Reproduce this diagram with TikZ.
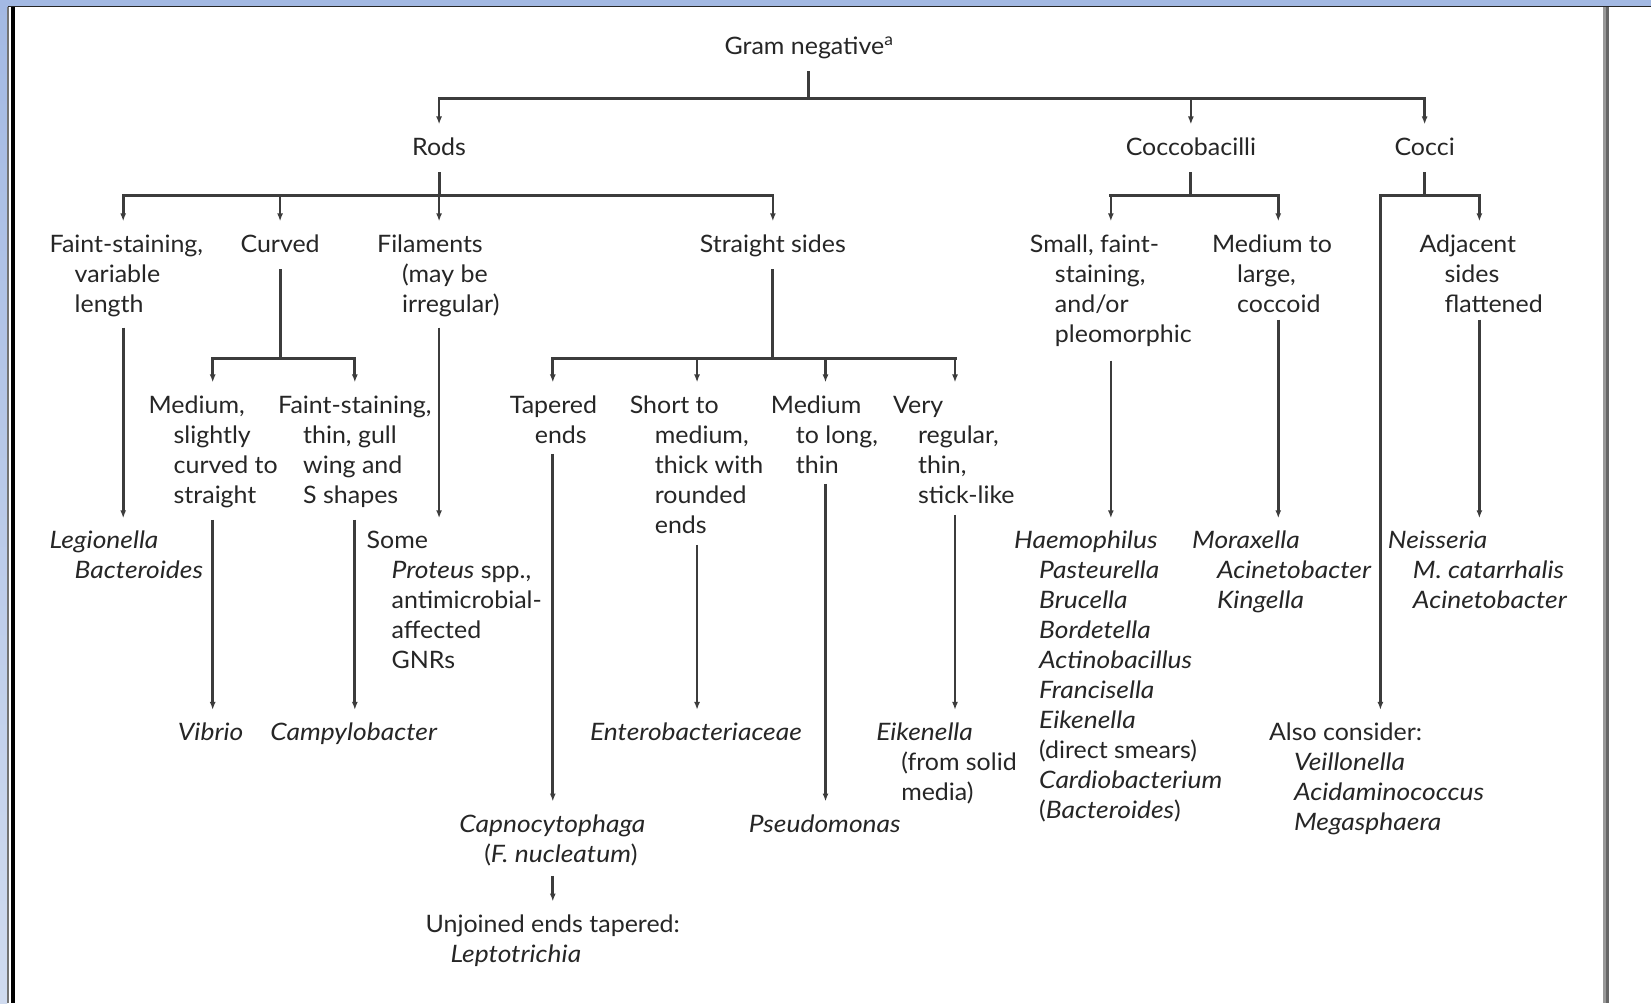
\documentclass[tikz,border=0pt]{standalone}
\usepackage{fontspec}
\setmainfont{Lato}[FakeStretch=1.04, ItalicFeatures={FakeStretch=1.10}]
\usetikzlibrary{arrows.meta}
\definecolor{txt}{HTML}{262626}
\definecolor{lnc}{HTML}{3C3C3C}
\definecolor{bandtop}{HTML}{A3B9E3}
\definecolor{bandbot}{HTML}{D0DBEF}
\newcommand{\hind}{\hspace*{25pt}}
\newcommand{\fsz}{\fontsize{24}{30}\selectfont}
\begin{document}
\begin{tikzpicture}[x=1.0529pt, y=-1.0529pt,
  tb/.style={anchor=north west, inner xsep=0pt, inner ysep=9.5pt, yshift=24pt,
             align=left, font=\fsz, text=txt,
             execute at begin node=\strut, execute at end node=\strut},
  tc/.style={tb, anchor=north, align=center},
  ln/.style={draw=lnc, line width=3pt, line cap=rect},
  arr/.style={draw=lnc, line width=2.7pt, -{Latex[length=8pt,width=6pt]}}]
\useasboundingbox (0,0) rectangle (1568,953);
% frame
\fill[white] (0,0) rectangle (1568,953);
\fill[bandtop] (0,0) rectangle (1568,5.6);
\shade[top color=bandtop, bottom color=bandbot] (0,0) rectangle (7,953);
\draw[line width=1.6pt, black!85] (7.2,6.2) -- (1568,6.2);
\draw[line width=1.6pt, black!55] (7.8,6.2) -- (7.8,953);
\draw[line width=4pt, black] (12.3,6.2) -- (12.3,953);
\fill[black!40] (1522.5,6.8) rectangle (1525.2,953);
\fill[black!60] (1525.2,6.8) rectangle (1528,953);

% nodes
\node[tb] (gn) at (688,45) {Gram negative\textsuperscript{a}};
\node[tc] (rods) at (417,141) {Rods};
\node[tc] (cb) at (1131,141) {Coccobacilli};
\node[tc] (cocci) at (1353,141) {Cocci};

\node[tb] (fs) at (47,233) {\strut Faint-staining,\\\hind variable\\\hind length\strut};
\node[tc] (curved) at (266,233) {Curved};
\node[tb] (fil) at (358,233) {\strut Filaments\\\hind(may be\\\hind irregular)\strut};
\node[tc] (ss) at (734,233) {Straight sides};
\node[tb] (sf) at (978,233) {\strut Small, faint-\\\hind staining,\\\hind and/or\\\hind pleomorphic\strut};
\node[tb] (mtl) at (1151,233) {\strut Medium to\\\hind large,\\\hind coccoid\strut};
\node[tb] (adj) at (1348,233) {\strut Adjacent\\\hind sides\\\hind flattened\strut};

\node[tb] (med) at (141,386) {\strut Medium,\\\hind slightly\\\hind curved to\\\hind straight\strut};
\node[tb] (fst) at (264,386) {\strut Faint-staining,\\\hind thin, gull\\\hind wing and\\\hind S shapes\strut};
\node[tb] (tap) at (484,386) {\strut Tapered\\\hind ends\strut};
\node[tb] (sht) at (598,386) {\strut Short to\\\hind medium,\\\hind thick with\\\hind rounded\\\hind ends\strut};
\node[tb] (mlt) at (732,386) {\strut Medium\\\hind to long,\\\hind thin\strut};
\node[tb] (very) at (848,386) {\strut Very\\\hind regular,\\\hind thin,\\\hind stick-like\strut};

\node[tb] (legion) at (47,515) {\strut\textit{Legionella}\\\hind\textit{Bacteroides}\strut};
\node[tb] (some) at (348,515) {\strut Some\\\hind\textit{Proteus} spp.,\\\hind antimicrobial-\\\hind affected\\\hind GNRs\strut};
\node[tc] (vibrio) at (200,697) {\textit{Vibrio}};
\node[tc] (campy) at (336,697) {\textit{Campylobacter}};
\node[tc] (entero) at (661,697) {\textit{Enterobacteriaceae}};
\node[tb] (eik) at (832,697) {\strut\textit{Eikenella}\\\hind(from solid\\\hind media)\strut};
\node[tb] (capno) at (436,784) {\strut\textit{Capnocytophaga}\\\hind(\textit{F. nucleatum})\strut};
\node[tb] (pseudo) at (711,784) {\textit{Pseudomonas}};
\node[tb] (unj) at (404,879) {\strut Unjoined ends tapered:\\\hind\textit{Leptotrichia}\strut};
\node[tb] (haem) at (963,515) {\strut\textit{Haemophilus}\\\hind\textit{Pasteurella}\\\hind\textit{Brucella}\\\hind\textit{Bordetella}\\\hind\textit{Actinobacillus}\\\hind\textit{Francisella}\\\hind\textit{Eikenella}\\\hind(direct smears)\\\hind\textit{Cardiobacterium}\\\hind(\textit{Bacteroides})\strut};
\node[tb] (mor) at (1132,515) {\strut\textit{Moraxella}\\\hind\textit{Acinetobacter}\\\hind\textit{Kingella}\strut};
\node[tb] (neis) at (1318,515) {\strut\textit{Neisseria}\\\hind\textit{M. catarrhalis}\\\hind\textit{Acinetobacter}\strut};
\node[tb] (also) at (1205,697) {\strut Also consider:\\\hind\textit{Veillonella}\\\hind\textit{Acidaminococcus}\\\hind\textit{Megasphaera}\strut};

% junctions
\coordinate (j0) at (768,94);
\coordinate (r0) at (417,186); \coordinate (r1) at (117,186);
\coordinate (r2) at (266,186); \coordinate (r4) at (734,186);
\coordinate (c0) at (266,340); \coordinate (c1) at (202,340); \coordinate (c2) at (337,340);
\coordinate (s0) at (734,340); \coordinate (s1) at (525,340); \coordinate (s2) at (662,340);
\coordinate (s3) at (784,340); \coordinate (s4) at (907,340);
\coordinate (k0) at (1131,186); \coordinate (k1) at (1055,186); \coordinate (k2) at (1214,186);
\coordinate (q0) at (1353,186); \coordinate (q1) at (1311,186); \coordinate (q2) at (1405,186);

% top level
\draw[ln] (gn.south -| j0) -- (j0);
\draw[ln] (rods |- j0) -- (cocci |- j0);
\draw[arr] (rods |- j0) -- (rods.north);
\draw[arr] (cb |- j0) -- (cb.north);
\draw[arr] (cocci |- j0) -- (cocci.north);

% rods
\draw[ln] (rods.south) -- (r0);
\draw[ln] (r1) -- (r4);
\draw[arr] (r1) -- (fs.north -| r1);
\draw[arr] (r2) -- (curved.north);
\draw[arr] (r0) -- (fil.north -| r0);
\draw[arr] (r4) -- (ss.north);
\draw[arr, shorten <=-3pt] (fs.south -| r1) -- (legion.north -| r1);
\draw[arr, shorten <=-3pt] (fil.south -| r0) -- (some.north -| r0);

% curved
\draw[ln] (curved.south) -- (c0);
\draw[ln] (c1) -- (c2);
\draw[arr] (c1) -- (med.north -| c1);
\draw[arr] (c2) -- (fst.north -| c2);
\draw[arr, shorten <=-2pt] (med.south -| c1) -- (vibrio.north -| c1);
\draw[arr, shorten <=-2pt] (fst.south -| c2) -- (campy.north -| c2);

% straight sides
\draw[ln] (ss.south) -- (s0);
\draw[ln] (s1) -- (s4);
\draw[arr] (s1) -- (tap.north -| s1);
\draw[arr] (s2) -- (sht.north -| s2);
\draw[arr] (s3) -- (mlt.north -| s3);
\draw[arr] (s4) -- (very.north -| s4);
\draw[arr, shorten <=-8pt] (tap.south -| s1) -- (capno.north -| s1);
\draw[arr, shorten <=-5pt] (capno.south -| s1) -- (unj.north -| s1);
\draw[arr, shorten <=-7pt] (sht.south -| s2) -- (entero.north -| s2);
\draw[arr, shorten <=-8pt] (mlt.south -| s3) -- (pseudo.north -| s3);
\draw[arr, shorten <=-7pt] (very.south -| s4) -- (eik.north -| s4);

% coccobacilli
\draw[ln] (cb.south) -- (k0);
\draw[ln] (k1) -- (k2);
\draw[arr] (k1) -- (sf.north -| k1);
\draw[arr] (k2) -- (mtl.north -| k2);
\draw[arr] (sf.south -| k1) -- (haem.north -| k1);
\draw[arr, shorten <=-11pt] (mtl.south -| k2) -- (mor.north -| k2);

% cocci
\draw[ln] (cocci.south) -- (q0);
\draw[ln] (q1) -- (q2);
\draw[arr] (q2) -- (adj.north -| q2);
\draw[arr, shorten <=-11pt] (adj.south -| q2) -- (neis.north -| q2);
\draw[arr] (q1) -- (also.north -| q1);
\end{tikzpicture}
\end{document}
